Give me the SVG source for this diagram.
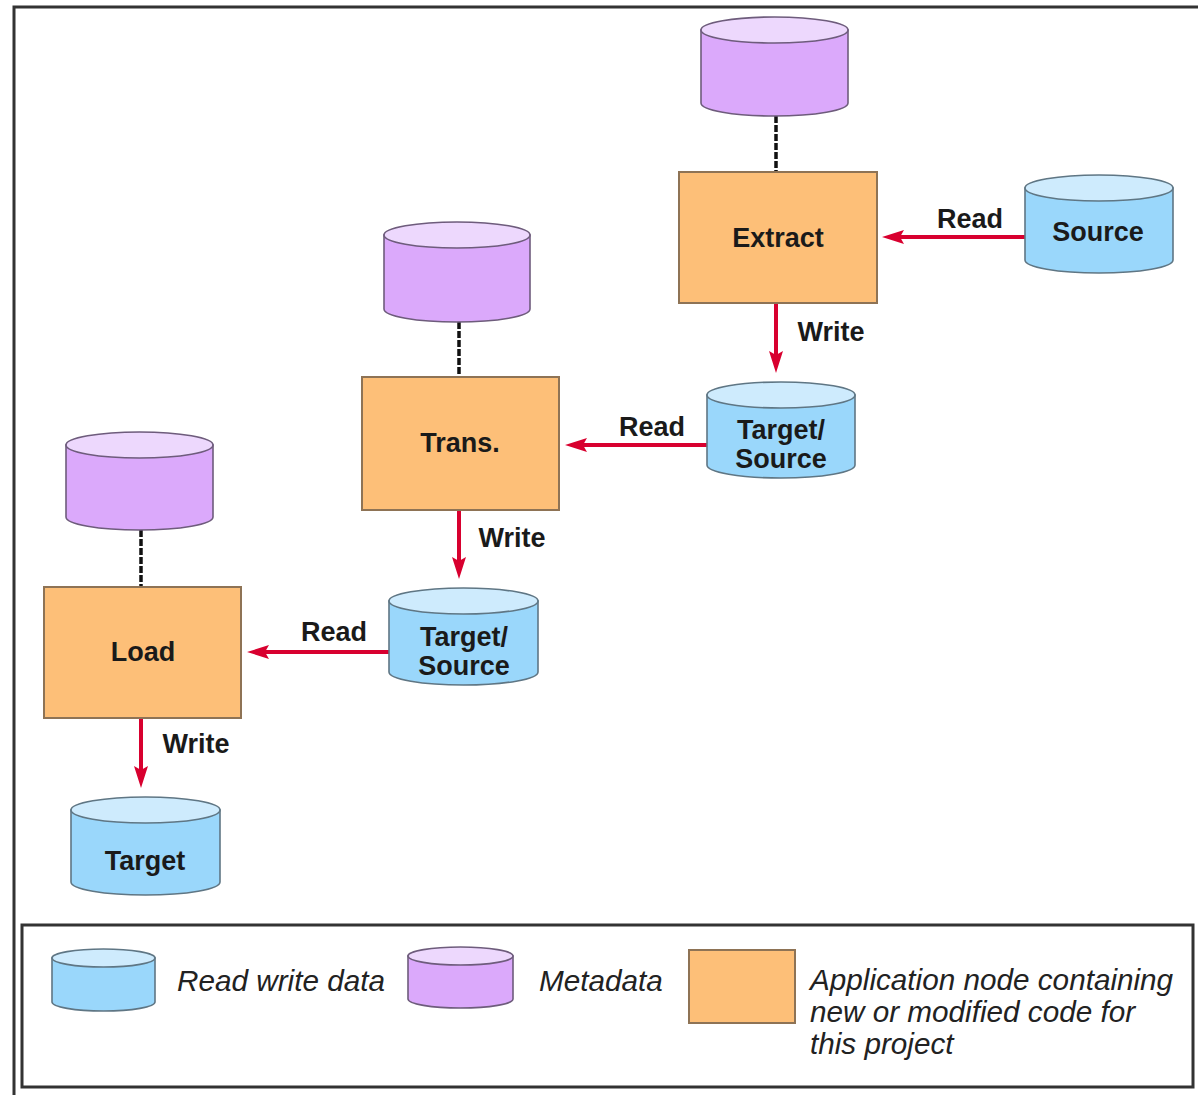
<svg xmlns="http://www.w3.org/2000/svg" width="1198" height="1095" viewBox="0 0 1198 1095">
  <style>
    .frame { fill: none; stroke: #333; stroke-width: 3; }
    .app { fill: #FDBF78; stroke: #8E7355; stroke-width: 2; }
    .data-body { fill: #9AD7FB; stroke: #5F7684; stroke-width: 1.6; }
    .data-top { fill: #CEEBFD; stroke: #5F7684; stroke-width: 1.6; }
    .meta-body { fill: #DBA9FB; stroke: #6E5C7C; stroke-width: 1.6; }
    .meta-top { fill: #EDD8FD; stroke: #6E5C7C; stroke-width: 1.6; }
    .flow { fill: none; stroke: #D8002F; stroke-width: 4; }
    .link { fill: none; stroke: #111; stroke-width: 3.5; stroke-dasharray: 7 2; }
    .lbl { font-family: "Liberation Sans", Arial, sans-serif; font-weight: bold; font-size: 27px; fill: #1a1a1a; text-anchor: middle; }
    .key { font-family: "Liberation Sans", Arial, sans-serif; font-style: italic; font-size: 29.7px; fill: #222; }
  </style>
  <defs>
    <marker id="arrow" viewBox="0 0 22 14" refX="8" refY="7" markerWidth="22" markerHeight="14" markerUnits="userSpaceOnUse" orient="auto">
      <path d="M0,0 L22,7 L0,14 L4,7 Z" fill="#D8002F"/>
    </marker>
  </defs>

  <rect width="1198" height="1095" fill="#fff"/>

  <!-- outer frame (top and left edges) -->
  <path class="frame" d="M14,1095 V7 H1198"/>

  <!-- connectors -->
  <g id="connectors">
    <line class="link" x1="776" y1="116" x2="776" y2="172"/>
    <line class="link" x1="459" y1="322" x2="459" y2="377"/>
    <line class="link" x1="141" y1="530" x2="141" y2="587"/>

    <line class="flow" x1="1025" y1="237" x2="896" y2="237" marker-end="url(#arrow)"/>
    <text class="lbl" x="970" y="228">Read</text>

    <line class="flow" x1="776" y1="303" x2="776" y2="359" marker-end="url(#arrow)"/>
    <text class="lbl" x="831" y="341">Write</text>

    <line class="flow" x1="707" y1="445" x2="579" y2="445" marker-end="url(#arrow)"/>
    <text class="lbl" x="652" y="436">Read</text>

    <line class="flow" x1="459" y1="510" x2="459" y2="565" marker-end="url(#arrow)"/>
    <text class="lbl" x="512" y="547">Write</text>

    <line class="flow" x1="389" y1="652" x2="261" y2="652" marker-end="url(#arrow)"/>
    <text class="lbl" x="334" y="641">Read</text>

    <line class="flow" x1="141" y1="718" x2="141" y2="774" marker-end="url(#arrow)"/>
    <text class="lbl" x="196" y="753">Write</text>
  </g>

  <!-- Extract stage -->
  <g id="extract-meta">
    <path class="meta-body" d="M701,30 V103 A73.5,13 0 0 0 848,103 V30 Z"/>
    <ellipse class="meta-top" cx="774.5" cy="30" rx="73.5" ry="13"/>
  </g>
  <g id="extract">
    <rect class="app" x="679" y="172" width="198" height="131"/>
    <text class="lbl" x="778" y="247">Extract</text>
  </g>
  <g id="source">
    <path class="data-body" d="M1025,188 V260 A74,13 0 0 0 1173,260 V188 Z"/>
    <ellipse class="data-top" cx="1099" cy="188" rx="74" ry="13"/>
    <text class="lbl" x="1098" y="241">Source</text>
  </g>
  <g id="target-source-1">
    <path class="data-body" d="M707,395 V465 A74,13 0 0 0 855,465 V395 Z"/>
    <ellipse class="data-top" cx="781" cy="395" rx="74" ry="13"/>
    <text class="lbl" x="781" y="439">Target/</text>
    <text class="lbl" x="781" y="468">Source</text>
  </g>

  <!-- Transform stage -->
  <g id="trans-meta">
    <path class="meta-body" d="M384,235 V309 A73,13 0 0 0 530,309 V235 Z"/>
    <ellipse class="meta-top" cx="457" cy="235" rx="73" ry="13"/>
  </g>
  <g id="trans">
    <rect class="app" x="362" y="377" width="197" height="133"/>
    <text class="lbl" x="460" y="452">Trans.</text>
  </g>
  <g id="target-source-2">
    <path class="data-body" d="M389,601 V672 A74.5,13 0 0 0 538,672 V601 Z"/>
    <ellipse class="data-top" cx="463.5" cy="601" rx="74.5" ry="13"/>
    <text class="lbl" x="464" y="646">Target/</text>
    <text class="lbl" x="464" y="675">Source</text>
  </g>

  <!-- Load stage -->
  <g id="load-meta">
    <path class="meta-body" d="M66,445 V517 A73.5,13 0 0 0 213,517 V445 Z"/>
    <ellipse class="meta-top" cx="139.5" cy="445" rx="73.5" ry="13"/>
  </g>
  <g id="load">
    <rect class="app" x="44" y="587" width="197" height="131"/>
    <text class="lbl" x="143" y="661">Load</text>
  </g>
  <g id="target">
    <path class="data-body" d="M71,810 V882 A74.5,13 0 0 0 220,882 V810 Z"/>
    <ellipse class="data-top" cx="145.5" cy="810" rx="74.5" ry="13"/>
    <text class="lbl" x="145" y="870">Target</text>
  </g>

  <!-- legend -->
  <g id="legend">
    <rect class="frame" x="22" y="925" width="1171" height="162"/>
    <path class="data-body" d="M52,958 V1002 A51.5,9 0 0 0 155,1002 V958 Z"/>
    <ellipse class="data-top" cx="103.5" cy="958" rx="51.5" ry="9"/>
    <text class="key" x="177" y="991">Read write data</text>
    <path class="meta-body" d="M408,956 V999 A52.5,9 0 0 0 513,999 V956 Z"/>
    <ellipse class="meta-top" cx="460.5" cy="956" rx="52.5" ry="9"/>
    <text class="key" x="539" y="991">Metadata</text>
    <rect class="app" x="689" y="950" width="106" height="73"/>
    <text class="key" x="810" y="990">Application node containing</text>
    <text class="key" x="810" y="1022">new or modified code for</text>
    <text class="key" x="810" y="1054">this project</text>
  </g>
</svg>
